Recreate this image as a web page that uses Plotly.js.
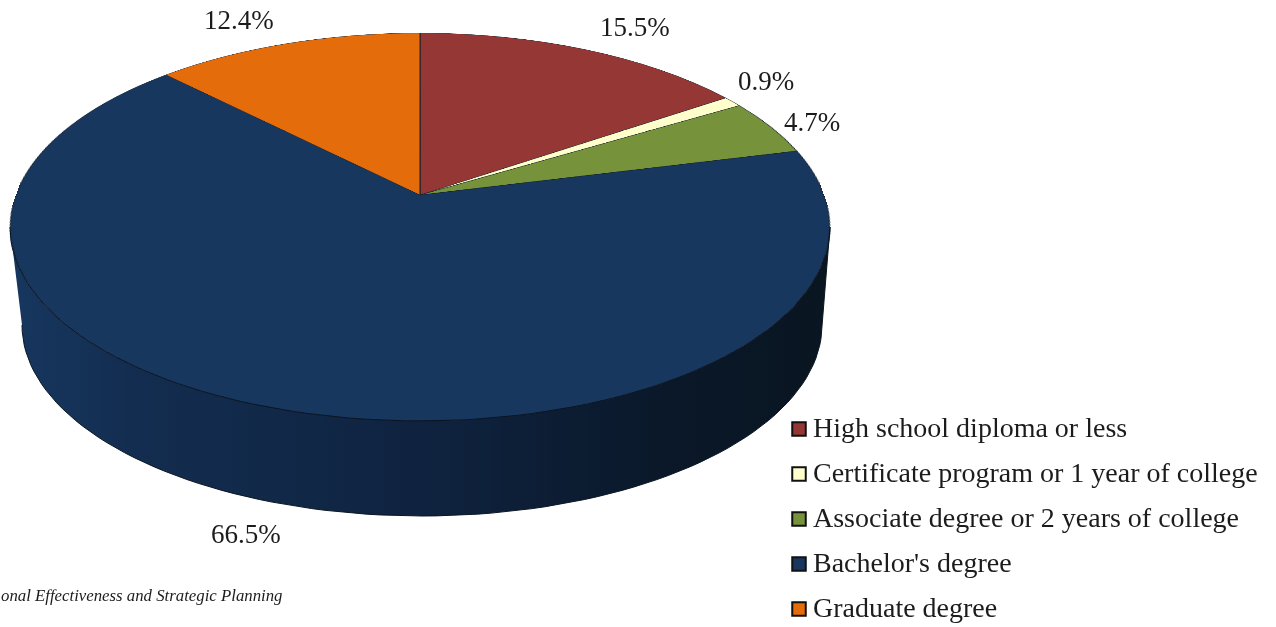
<!DOCTYPE html>
<html><head><meta charset="utf-8">
<script src="https://cdn.plot.ly/plotly-3.0.1.min.js"></script>
<style>
html,body{margin:0;padding:0;background:#fff;overflow:hidden;width:1276px;height:627px}
#pie{position:absolute;left:0;top:0;width:800px;height:800px;transform-origin:0 0}
#main{position:absolute;left:0;top:0;width:1276px;height:627px;pointer-events:none}
</style></head><body>
<div id="pie"></div><div id="main"></div>
<script>
// Data
const categories = ["High school diploma or less","Certificate program or 1 year of college","Associate degree or 2 years of college","Bachelor's degree","Graduate degree"];
const shares = [15.5, 0.9, 4.7, 66.5, 12.4];
const colors = ["#953735","#FFFFCC","#76933C","#17375E","#E46C0A"];
const labelX = [635, 766, 812, 246, 239];
const labelY = [27, 81, 122, 534, 20];
const legendX = [799, 799, 799, 799, 799];
const legendY = [429, 474, 519, 564, 609];
const legendTextX = 811;
const legendTextLift = 1.5;
const sourceText = "onal Effectiveness and Strategic Planning";
const FONT = '"Liberation Serif","Times New Roman",serif';

// Perspective view of the disc: centre (X0,Y0), half axes A,B, foreshortening a
const X0=420, Y0=195, A=404, B=188.7, a=0.165;
const S=800, R=400, c=S/2;
const k=1+a*c/R;
const m=[A/R,0,0,0, -X0*a/R,-Y0*a/R+B/R,0,-a/R, 0,0,1,0, X0*k-A*c/R,Y0*k-B*c/R,0,k];
document.getElementById('pie').style.transform='matrix3d('+m.join(',')+')';

Plotly.newPlot('pie',[{type:'pie',labels:categories,values:shares,sort:false,direction:'clockwise',rotation:0,
  marker:{colors:colors,line:{color:'#14202e',width:1}},textinfo:'none',hoverinfo:'label+percent',
  domain:{x:[0,1],y:[0,1]}}],
  {width:S,height:S,margin:{l:0,r:0,t:0,b:0},showlegend:false,paper_bgcolor:'rgba(0,0,0,0)'},
  {displayModeBar:false});

// Side wall: lower half of the top rim and the matching lower rim
const wallX=[],wallY=[];
const topCy=227, rxTop=410, ryTop=194, botCx=422, botCy=325, rxBot=400, ryBot=191;
for(let d=180;d>=0;d-=2){const t=d*Math.PI/180;wallX.push(420+rxTop*Math.cos(t));wallY.push(topCy+ryTop*Math.sin(t));}
for(let d=0;d<=180;d+=2){const t=d*Math.PI/180;wallX.push(botCx+rxBot*Math.cos(t));wallY.push(botCy+ryBot*Math.sin(t));}

const traces=[
 {type:'scatter',mode:'lines',x:wallX,y:wallY,fill:'toself',hoverinfo:'skip',showlegend:false,
  line:{color:'#0a1522',width:1},
  fillgradient:{type:'horizontal',colorscale:[[0,'#17375f'],[0.15,'#132d50'],[0.5,'#0f2340'],[0.8,'#0a1829'],[1,'#091520']]}},
 {type:'scatter',mode:'markers',x:legendX,y:legendY,hoverinfo:'skip',showlegend:false,
  marker:{symbol:'square',size:13.5,color:colors,line:{color:'#111',width:2}}}
];
const ann=shares.map((v,i)=>({xref:'x',yref:'y',x:labelX[i],y:labelY[i],text:v.toFixed(1)+'%',showarrow:false,
  xanchor:'center',yanchor:'middle',font:{family:FONT,size:27,color:'#1c1c1c'}}));
categories.forEach((t,i)=>ann.push({xref:'x',yref:'y',x:legendTextX,y:legendY[i]-legendTextLift,text:t,showarrow:false,
  xanchor:'left',yanchor:'middle',font:{family:FONT,size:28,color:'#1c1c1c'}}));
ann.push({xref:'x',yref:'y',x:285,y:595,text:'<i>'+sourceText+'</i>',showarrow:false,xanchor:'right',yanchor:'middle',
  font:{family:FONT,size:16.8,color:'#1c1c1c'}});

Plotly.newPlot('main',traces,{width:1276,height:627,margin:{l:0,r:0,t:0,b:0},showlegend:false,
  paper_bgcolor:'rgba(0,0,0,0)',plot_bgcolor:'rgba(0,0,0,0)',
  xaxis:{range:[0,1276],visible:false,fixedrange:true},
  yaxis:{range:[627,0],visible:false,fixedrange:true},
  annotations:ann},{displayModeBar:false,staticPlot:true});
</script></body></html>
